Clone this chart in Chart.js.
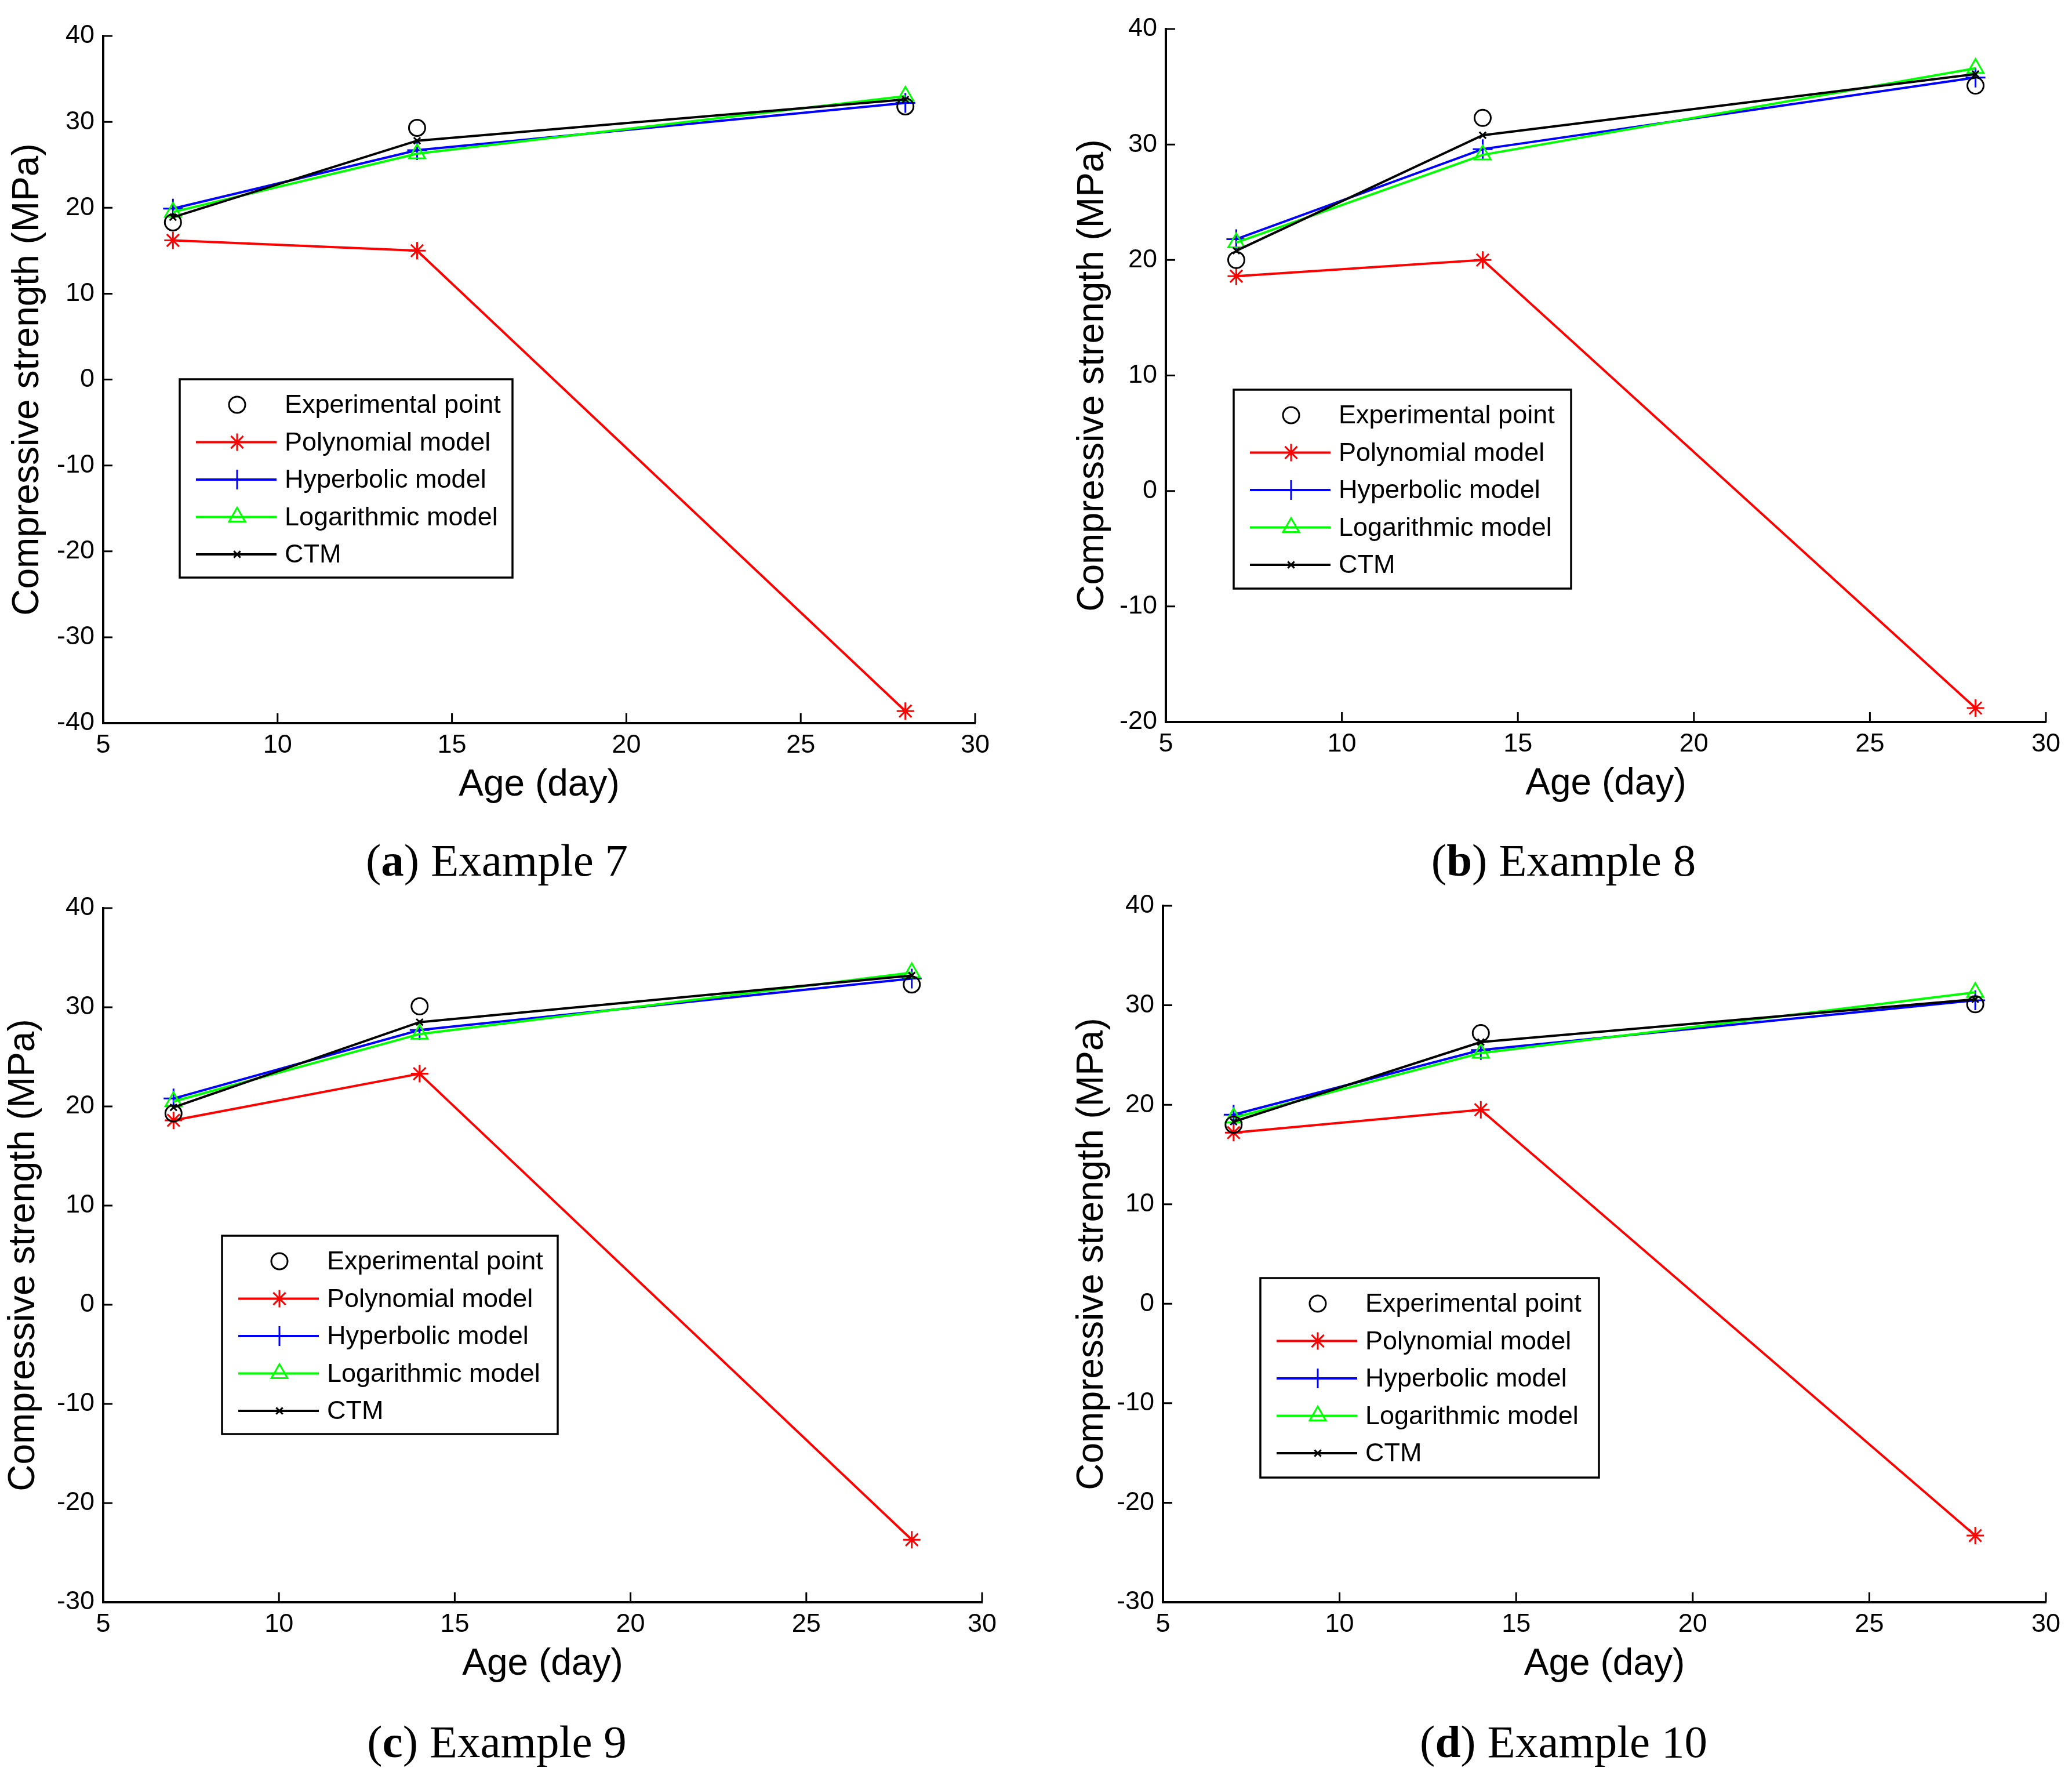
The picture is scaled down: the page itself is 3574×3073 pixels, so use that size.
<!DOCTYPE html>
<html>
<head>
<meta charset="utf-8">
<title>Compressive strength vs age</title>
<script src="https://cdn.jsdelivr.net/npm/chart.js@4.4.1/dist/chart.umd.min.js"></script>
<style>
  html, body { margin: 0; padding: 0; background: #fff; }
  body { width: 3574px; height: 3073px; position: relative; overflow: hidden; }
  canvas { position: absolute; }
  .caption {
    position: absolute;
    transform: translate(-50%, -50%);
    font-family: 'Liberation Serif', 'DejaVu Serif', serif;
    font-size: 79px;
    white-space: nowrap;
    color: #000;
  }
</style>
</head>
<body>
<canvas id="chartA"></canvas>
<canvas id="chartB"></canvas>
<canvas id="chartC"></canvas>
<canvas id="chartD"></canvas>
<div class="caption" style="left:857px;top:1484px">(<b>a</b>) Example 7</div>
<div class="caption" style="left:2697px;top:1484px">(<b>b</b>) Example 8</div>
<div class="caption" style="left:857px;top:3004px">(<b>c</b>) Example 9</div>
<div class="caption" style="left:2697px;top:3004px">(<b>d</b>) Example 10</div>
<script>
const ages = [7, 14, 28];
const xTicks = [5, 10, 15, 20, 25, 30];
const seriesNames = ['Experimental point', 'Polynomial model', 'Hyperbolic model', 'Logarithmic model', 'CTM'];

// Example 7
const exp7 = [18.3, 29.3, 31.8];
const poly7 = [16.2, 15.0, -38.6];
const hyp7 = [19.9, 26.7, 32.2];
const log7 = [19.5, 26.3, 33.0];
const ctm7 = [18.9, 27.8, 32.6];
const yTicks7 = [-40, -30, -20, -10, 0, 10, 20, 30, 40];

// Example 8
const exp8 = [20.0, 32.3, 35.1];
const poly8 = [18.6, 20.0, -18.8];
const hyp8 = [21.8, 29.6, 35.8];
const log8 = [21.5, 29.1, 36.6];
const ctm8 = [20.8, 30.8, 36.1];
const yTicks8 = [-20, -10, 0, 10, 20, 30, 40];

// Example 9
const exp9 = [19.3, 30.1, 32.3];
const poly9 = [18.6, 23.3, -23.7];
const hyp9 = [20.8, 27.7, 32.9];
const log9 = [20.5, 27.3, 33.5];
const ctm9 = [19.9, 28.5, 33.2];
const yTicks9 = [-30, -20, -10, 0, 10, 20, 30, 40];

// Example 10
const exp10 = [18.0, 27.2, 30.1];
const poly10 = [17.2, 19.5, -23.3];
const hyp10 = [19.0, 25.5, 30.5];
const log10 = [18.7, 25.2, 31.3];
const ctm10 = [18.3, 26.3, 30.6];
const yTicks10 = [-30, -20, -10, 0, 10, 20, 30, 40];

const seriesStyles = [
  { color: '#000000', pointStyle: 'circle', radius: 14, showLine: false, order: 0 },
  { color: '#ff0000', pointStyle: 'star', radius: 15, showLine: true, order: 4 },
  { color: '#0000ff', pointStyle: 'cross', radius: 17, showLine: true, order: 3 },
  { color: '#00ff00', pointStyle: 'triangle', radius: 16, showLine: true, order: 2 },
  { color: '#000000', pointStyle: 'crossRot', radius: 8, showLine: true, order: 1 },
];

// plot area and legend box in page pixels
const panels = [
  { id: 'chartA', series: [exp7, poly7, hyp7, log7, ctm7], yTicks: yTicks7,
    area: [178, 62, 1682, 1247], legend: [310, 654, 884, 996], titlePad: 8 },
  { id: 'chartB', series: [exp8, poly8, hyp8, log8, ctm8], yTicks: yTicks8,
    area: [2011, 50, 3529, 1245], legend: [2128, 672, 2710, 1015], titlePad: 12 },
  { id: 'chartC', series: [exp9, poly9, hyp9, log9, ctm9], yTicks: yTicks9,
    area: [178, 1566, 1694, 2763], legend: [383, 2131, 962, 2473], titlePad: 1 },
  { id: 'chartD', series: [exp10, poly10, hyp10, log10, ctm10], yTicks: yTicks10,
    area: [2006, 1562, 3529, 2763], legend: [2174, 2204, 2758, 2548], titlePad: 16 },
];

const M = { left: 176, top: 48, right: 70, bottom: 160 };
const sansFamily = "'Liberation Sans', Arial, sans-serif";

// MATLAB style tick marks pointing into the plot
const inwardTicks = {
  id: 'inwardTicks',
  beforeDatasetsDraw(chart) {
    const { ctx, chartArea, scales } = chart;
    ctx.save();
    ctx.strokeStyle = '#000';
    ctx.lineWidth = 3;
    ctx.beginPath();
    scales.x.ticks.forEach((t) => {
      const px = scales.x.getPixelForValue(t.value);
      ctx.moveTo(px, chartArea.bottom);
      ctx.lineTo(px, chartArea.bottom - 17);
    });
    scales.y.ticks.forEach((t) => {
      const py = scales.y.getPixelForValue(t.value);
      ctx.moveTo(chartArea.left, py);
      ctx.lineTo(chartArea.left + 16, py);
    });
    ctx.stroke();
    ctx.restore();
  },
};

// boxed legend inside the plot, line + marker per row
const boxLegend = {
  id: 'boxLegend',
  afterDraw(chart, args, opts) {
    const ctx = chart.ctx;
    const [ox, oy] = opts.origin;
    const x0 = opts.rect[0] - ox, y0 = opts.rect[1] - oy;
    const w = opts.rect[2] - opts.rect[0], h = opts.rect[3] - opts.rect[1];
    ctx.save();
    ctx.fillStyle = '#fff';
    ctx.fillRect(x0, y0, w, h);
    ctx.strokeStyle = '#000';
    ctx.lineWidth = 3.5;
    ctx.strokeRect(x0, y0, w, h);
    chart.data.datasets.forEach((ds, i) => {
      const y = y0 + 44 + i * 64.5;
      ctx.strokeStyle = ds.borderColor;
      ctx.lineWidth = 4;
      if (ds.showLine) {
        ctx.beginPath();
        ctx.moveTo(x0 + 28, y);
        ctx.lineTo(x0 + 167, y);
        ctx.stroke();
      }
      ctx.lineWidth = 3;
      ctx.fillStyle = 'rgba(0,0,0,0)';
      Chart.helpers.drawPoint(ctx, {
        pointStyle: ds.pointStyle, radius: ds.pointRadius, rotation: 0, borderWidth: 3,
      }, x0 + 99, y);
      ctx.fillStyle = '#000';
      ctx.font = '45px ' + sansFamily;
      ctx.textBaseline = 'middle';
      ctx.textAlign = 'left';
      ctx.fillText(ds.label, x0 + 181, y + 2);
    });
    ctx.restore();
  },
};

function makeChart(panel) {
  const [L, T, R, B] = panel.area;
  const canvas = document.getElementById(panel.id);
  canvas.width = M.left + (R - L) + M.right;
  canvas.height = M.top + (B - T) + M.bottom;
  canvas.style.left = (L - M.left) + 'px';
  canvas.style.top = (T - M.top) + 'px';

  const tickFont = { family: sansFamily, size: 45 };
  const titleFont = { family: sansFamily, size: 64 };
  const yTicks = panel.yTicks;

  new Chart(canvas, {
    type: 'line',
    data: {
      datasets: panel.series.map((vals, i) => {
        const st = seriesStyles[i];
        return {
          label: seriesNames[i],
          data: ages.map((a, k) => ({ x: a, y: vals[k] })),
          borderColor: st.color,
          backgroundColor: 'rgba(0,0,0,0)',
          borderWidth: 4,
          pointStyle: st.pointStyle,
          pointRadius: st.radius,
          pointBorderColor: st.color,
          pointBackgroundColor: 'rgba(0,0,0,0)',
          pointBorderWidth: 3,
          showLine: st.showLine,
          tension: 0,
          fill: false,
          order: st.order,
          clip: false,
        };
      }),
    },
    options: {
      responsive: false,
      animation: false,
      devicePixelRatio: 1,
      events: [],
      layout: { padding: { left: 0, top: M.top, right: M.right, bottom: 0 } },
      plugins: {
        legend: { display: false },
        tooltip: { enabled: false },
        boxLegend: { rect: panel.legend, origin: [L - M.left, T - M.top] },
      },
      scales: {
        x: {
          type: 'linear',
          min: xTicks[0],
          max: xTicks[xTicks.length - 1],
          afterBuildTicks: (s) => { s.ticks = xTicks.map((v) => ({ value: v })); },
          afterFit: (s) => { s.height = M.bottom; },
          grid: { display: false, drawTicks: false },
          border: { display: true, color: '#000', width: 4 },
          ticks: { color: '#000', font: tickFont, padding: 12, maxRotation: 0, autoSkip: false },
          title: { display: true, text: 'Age (day)', color: '#000', font: titleFont, padding: { top: 0, bottom: 14 } },
        },
        y: {
          type: 'linear',
          min: yTicks[0],
          max: yTicks[yTicks.length - 1],
          afterBuildTicks: (s) => { s.ticks = yTicks.map((v) => ({ value: v })); },
          afterFit: (s) => { s.width = M.left; },
          grid: { display: false, drawTicks: false },
          border: { display: true, color: '#000', width: 4 },
          ticks: { color: '#000', font: tickFont, padding: 15, autoSkip: false },
          title: { display: true, text: 'Compressive strength (MPa)', color: '#000', font: titleFont, padding: { top: panel.titlePad, bottom: 0 } },
        },
      },
    },
    plugins: [inwardTicks, boxLegend],
  });
}

panels.forEach(makeChart);
</script>
</body>
</html>
